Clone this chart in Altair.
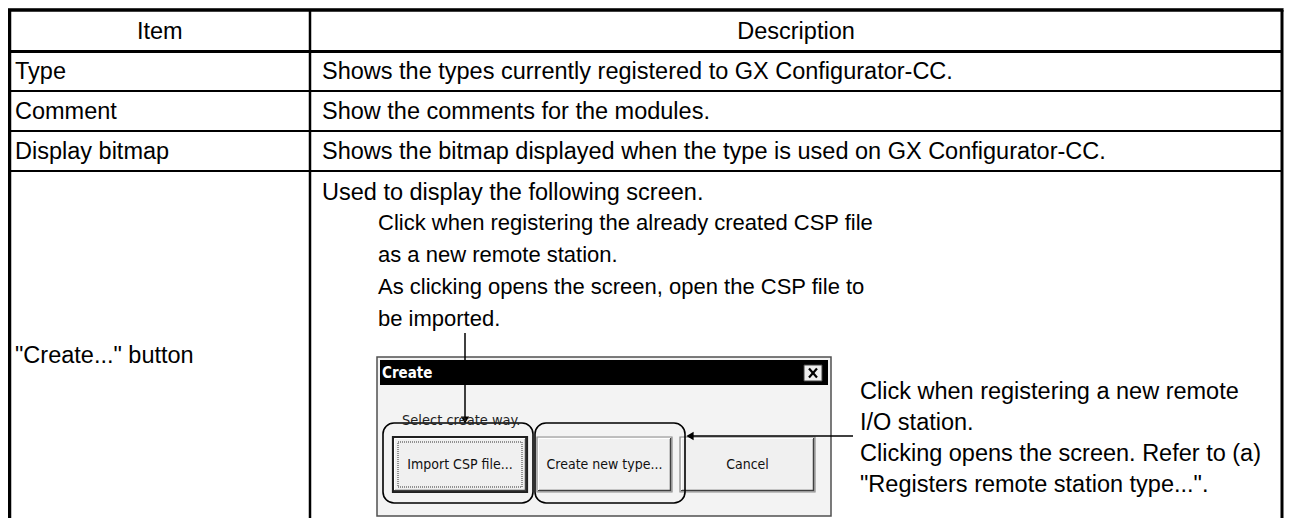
import altair as alt
import pandas as pd

# ---------------- content ----------------
headers = ["Item", "Description"]
items = ["Type", "Comment", "Display bitmap", "\"Create...\" button"]
descriptions = [
    "Shows the types currently registered to GX Configurator-CC.",
    "Show the comments for the modules.",
    "Shows the bitmap displayed when the type is used on GX Configurator-CC.",
    "Used to display the following screen.",
]
import_note = [
    "Click when registering the already created CSP file",
    "as a new remote station.",
    "As clicking opens the screen, open the CSP file to",
    "be imported.",
]
new_type_note = [
    "Click when registering a new remote",
    "I/O station.",
    "Clicking opens the screen. Refer to (a)",
    "\"Registers remote station type...\".",
]
dialog_title = "Create"
dialog_prompt = "Select create way."
dialog_buttons = ["Import CSP file...", "Create new type...", "Cancel"]

# ---------------- layout (page pixels) ----------------
W, H = 1276, 510
X0, Y0 = 8, 8
xs = alt.Scale(domain=[X0, X0 + W], range=[0, W])
ys = alt.Scale(domain=[Y0, Y0 + H], range=[0, H])
BOTTOM = Y0 + H

COL_L, COL_M, COL_R = 9.5, 310, 1282
ROW_Y = [10, 51.5, 91, 131, 171]
FONT = "Liberation Sans"
FS = 23.5

lines = []
def rule(x, y, x2, y2, w=1.0, c="black"):
    lines.append(dict(x=x, y=y, x2=x2, y2=y2, w=w, c=c))

# table grid
rule(COL_L - 1.5, ROW_Y[0], COL_R + 1.5, ROW_Y[0], 3.5)
rule(COL_L, ROW_Y[1], COL_R, ROW_Y[1], 3)
for yy in ROW_Y[2:]:
    rule(COL_L, yy, COL_R, yy, 2)
rule(COL_L, ROW_Y[0], COL_L, BOTTOM, 3.5)
rule(COL_M, ROW_Y[0], COL_M, BOTTOM, 2.5)
rule(COL_R, ROW_Y[0], COL_R, BOTTOM, 3)

# dialog geometry
DX1, DX2, DY1, DY2 = 377, 831, 357, 516
BTN = [(393, 527), (537, 672), (680, 815)]
BY1, BY2 = 437, 492

rects = []
def rect(x, y, x2, y2, fill, stroke="none", w=0.0):
    rects.append(dict(x=x, y=y, x2=x2, y2=y2, fill=fill, stroke=stroke, w=w))

rect(DX1, DY1, DX2, DY2, "#f3f3f3", "#505050", 1.5)
rect(DX1 + 3, DY1 + 3, DX2 - 3, 385, "black")
rect(804, 365, 822, 381, "#eeeeee", "#404040", 1)
for i, (a, b) in enumerate(BTN):
    rect(a, BY1, b, BY2, "#f0f0f0", "#202020" if i == 0 else "#8a8a8a", 2.2 if i == 0 else 1.2)
    rule(a + 1, BY2 - 1.5, b - 1, BY2 - 1.5, 1.5, "#404040")
    rule(b - 1.5, BY1 + 1, b - 1.5, BY2 - 1, 1.5, "#404040")
    rule(a + 1.5, BY1 + 1.5, b - 2, BY1 + 1.5, 1, "white")
    rule(a + 1.5, BY1 + 1.5, a + 1.5, BY2 - 2, 1, "white")

# close-button cross
rule(809, 368.5, 817, 377.5, 2.2)
rule(817, 368.5, 809, 377.5, 2.2)

# callout lines
rule(465, 333, 465, 418, 1.5)
rule(853, 436, 692, 436, 1.5)

rounded = pd.DataFrame([
    dict(x=383, y=423, x2=533, y2=503),
    dict(x=535, y=423, x2=685, y2=503),
])
focus = pd.DataFrame([dict(x=398, y=442, x2=522, y2=487)])
heads = pd.DataFrame([
    dict(x=465, y=420, shape="triangle-down"),
    dict(x=690, y=436, shape="triangle-left"),
])

texts_main = []
for i, it in enumerate(items[:3]):
    cy = (ROW_Y[i + 1] + ROW_Y[i + 2]) / 2 + 0.5
    texts_main.append(dict(x=15, y=cy, t=it))
    texts_main.append(dict(x=322, y=cy, t=descriptions[i]))
texts_main.append(dict(x=15, y=356, t=items[3]))
texts_main.append(dict(x=322, y=193, t=descriptions[3]))
for j, t in enumerate(new_type_note):
    texts_main.append(dict(x=860, y=392 + j * 31, t=t))
texts_note = [dict(x=378, y=223 + j * 32, t=t) for j, t in enumerate(import_note)]
texts_center = [
    dict(x=(COL_L + COL_M) / 2, y=31.5, t=headers[0]),
    dict(x=(COL_M + COL_R) / 2, y=31.5, t=headers[1]),
]

btn_text = [dict(x=(a + b) / 2, y=(BY1 + BY2) / 2, t=dialog_buttons[i]) for i, (a, b) in enumerate(BTN)]
prompt = [dict(x=402, y=421, t=dialog_prompt)]
title = [dict(x=382, y=373, t=dialog_title)]


def enc_rect():
    return dict(
        x=alt.X("x:Q", scale=xs, axis=None),
        x2="x2:Q",
        y=alt.Y("y:Q", scale=ys, axis=None),
        y2="y2:Q",
    )

base_rects = alt.Chart(pd.DataFrame(rects)).mark_rect().encode(
    **enc_rect(),
    fill=alt.Fill("fill:N", scale=None),
    stroke=alt.Stroke("stroke:N", scale=None),
    strokeWidth=alt.StrokeWidth("w:Q", scale=None),
)
rule_layer = alt.Chart(pd.DataFrame(lines)).mark_rule(strokeCap="butt").encode(
    **enc_rect(),
    stroke=alt.Stroke("c:N", scale=None),
    strokeWidth=alt.StrokeWidth("w:Q", scale=None),
)
round_layer = alt.Chart(rounded).mark_rect(
    cornerRadius=11, fillOpacity=0, stroke="black", strokeWidth=1.6
).encode(**enc_rect())
focus_layer = alt.Chart(focus).mark_rect(
    fillOpacity=0, stroke="#333333", strokeWidth=1, strokeDash=[1, 1]
).encode(**enc_rect())
head_layer = alt.Chart(heads).mark_point(filled=True, color="black", size=70, opacity=1).encode(
    x=alt.X("x:Q", scale=xs, axis=None),
    y=alt.Y("y:Q", scale=ys, axis=None),
    shape=alt.Shape("shape:N", scale=None),
)


def text_layer(rows, align, size, color="black", weight="normal", font=FONT):
    return alt.Chart(pd.DataFrame(rows)).mark_text(
        align=align, baseline="middle", fontSize=size, font=font,
        fontWeight=weight, color=color,
    ).encode(
        x=alt.X("x:Q", scale=xs, axis=None),
        y=alt.Y("y:Q", scale=ys, axis=None),
        text="t:N",
    )

chart = alt.layer(
    base_rects,
    rule_layer,
    round_layer,
    focus_layer,
    head_layer,
    text_layer(texts_main, "left", FS),
    text_layer(texts_note, "left", 22),
    text_layer(texts_center, "center", FS),
    text_layer(btn_text, "center", 14, "#111111", font="DejaVu Sans Condensed"),
    text_layer(prompt, "left", 14.5, "#222222", font="DejaVu Sans Condensed"),
    text_layer(title, "left", 15, "white", "bold", font="DejaVu Sans Condensed"),
).properties(
    width=W, height=H,
    autosize=alt.AutoSizeParams(type="none"),
    padding=0,
).configure_view(stroke=None).configure(background="white")

chart.save("out.html", embed_options={"renderer": "svg", "actions": False})
